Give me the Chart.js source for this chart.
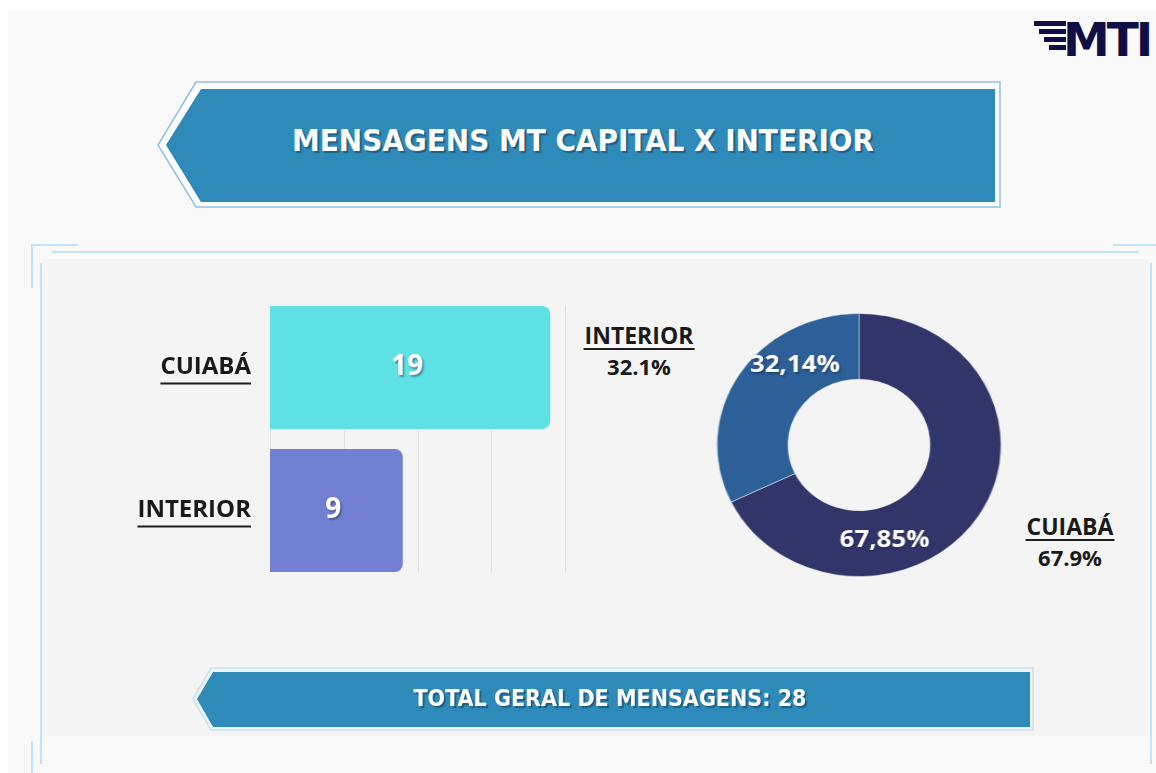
<!DOCTYPE html>
<html>
<head>
<meta charset="utf-8">
<script src="https://cdn.jsdelivr.net/npm/chart.js@4.4.1/dist/chart.umd.min.js"></script>
<style>
  html, body { margin:0; padding:0; }
  body { width:1156px; height:773px; background:#ffffff; position:relative; overflow:hidden; font-family:"Open Sans", sans-serif; }
  .abs { position:absolute; }
  #page { left:8px; top:10px; width:1148px; height:763px; background:#f9f9f9; }
  #panel { left:42px; top:259px; width:1106px; height:477px; background:#f4f4f4; }
  .bl { position:absolute; background:#bfe3f7; }
  .title { color:#fff; font-family:"DejaVu Sans Condensed","DejaVu Sans",sans-serif; font-weight:bold; text-shadow:2px 2px 1px rgba(20,60,90,0.55); white-space:nowrap; transform:translate(-50%,-50%); }
  .olab { text-align:center; transform:translateX(-50%); color:#1a1a1a; font-weight:bold; font-size:22px; line-height:31px; white-space:nowrap; }
  .olab .u { display:inline-block; border-bottom:2px solid #1e1e1e; font-size:23px; line-height:26px; padding:0 1px; }
</style>
</head>
<body>
<div id="page" class="abs"></div>

<!-- logo -->
<svg class="abs" style="left:1030px;top:15px" width="126" height="48">
  <g fill="#0f0f45">
    <rect x="4" y="6" width="32" height="5"/>
    <rect x="9" y="14" width="27" height="5"/>
    <rect x="14" y="22" width="22" height="5"/>
    <rect x="19" y="30" width="17" height="5"/>
  </g>
  <text x="33" y="41" fill="#0f0f45" font-family="DejaVu Sans" font-weight="bold" font-size="47" letter-spacing="-3">MTI</text>
</svg>

<!-- title banner -->
<svg class="abs" style="left:0;top:0" width="1156" height="773">
  <polygon points="196,82 1000,82 1000,207 196,207 158,145" fill="#ffffff" stroke="#8cc2de" stroke-width="1.5"/>
  <polygon points="201,89 995,89 995,202 201,202 166,145" fill="#2e8bb9"/>
</svg>
<div class="abs title" style="left:583px;top:140px;font-size:31px;">MENSAGENS MT CAPITAL X INTERIOR</div>

<!-- decorative lines -->
<div class="bl" style="left:31px;top:244px;width:47px;height:2px"></div>
<div class="bl" style="left:31px;top:244px;width:2px;height:44px"></div>
<div class="bl" style="left:52px;top:251px;width:1087px;height:2px"></div>
<div class="bl" style="left:1113px;top:244px;width:43px;height:2px"></div>

<div id="panel" class="abs"></div>
<div class="bl" style="left:40px;top:263px;width:2px;height:501px"></div>
<div class="bl" style="left:1150px;top:263px;width:2px;height:501px"></div>
<div class="bl" style="left:31px;top:741px;width:2px;height:32px"></div>

<!-- bar chart -->
<canvas id="bar" class="abs" style="left:100px;top:286px" width="480" height="306"></canvas>

<!-- doughnut -->
<canvas id="donut" class="abs" style="left:727px;top:313px;transform:scaleX(1.08);transform-origin:50% 50%" width="264" height="264"></canvas>

<div id="labInt" class="abs olab" style="left:639px;top:320px"><span class="u">INTERIOR</span><br><span id="pInt"></span></div>
<div id="labCui" class="abs olab" style="left:1070px;top:511px"><span class="u">CUIABÁ</span><br><span id="pCui"></span></div>

<!-- bottom banner -->
<svg class="abs" style="left:0;top:0" width="1156" height="773">
  <polygon points="211,668 1033,668 1033,730 211,730 193,699" fill="#eef5fa" stroke="#c9e0ee" stroke-width="1.5"/>
  <polygon points="213,672 1030,672 1030,727 213,727 197,699" fill="#2e8bb9"/>
</svg>
<div id="total" class="abs title" style="left:610px;top:698px;font-size:23px;"></div>

<script>
// ---- data ----
const categories = ["CUIABÁ", "INTERIOR"];
const messageCounts = [19, 9];
const barColors = ["#5ee2e6", "#7180d2"];
const donutColors = ["#313569", "#2d5f98"];
const xTicks = [0, 5, 10, 15, 20];

const total = messageCounts.reduce((a, b) => a + b, 0);
const pctTrunc = v => (Math.floor(v / total * 10000) / 100).toFixed(2).replace('.', ',') + '%';
const pctRound = v => (v / total * 100).toFixed(1) + '%';

document.getElementById('total').textContent = 'TOTAL GERAL DE MENSAGENS: ' + total;
document.getElementById('pCui').textContent = pctRound(messageCounts[0]);
document.getElementById('pInt').textContent = pctRound(messageCounts[1]);

function shadowText(ctx, txt, x, y) {
  ctx.save();
  ctx.shadowColor = 'rgba(30,40,70,0.45)';
  ctx.shadowOffsetX = 1.5;
  ctx.shadowOffsetY = 1.5;
  ctx.shadowBlur = 2;
  ctx.fillStyle = '#ffffff';
  ctx.fillText(txt, x, y);
  ctx.restore();
}

const barPlugin = {
  id: 'barDeco',
  beforeDatasetsDraw(chart) {
    const ctx = chart.ctx, xs = chart.scales.x;
    const meta = chart.getDatasetMeta(0);
    const top = meta.data[0].y - meta.data[0].height / 2;
    const bottom = meta.data[meta.data.length - 1].y + meta.data[meta.data.length - 1].height / 2;
    ctx.save();
    ctx.strokeStyle = '#e0e0e0';
    ctx.lineWidth = 1;
    xTicks.forEach(t => {
      const x = Math.round(xs.getPixelForValue(t)) + 0.5;
      ctx.beginPath(); ctx.moveTo(x, top); ctx.lineTo(x, bottom); ctx.stroke();
    });
    ctx.restore();
  },
  afterDatasetsDraw(chart) {
    const ctx = chart.ctx, ys = chart.scales.y;
    const meta = chart.getDatasetMeta(0);
    ctx.save();
    ctx.textAlign = 'center';
    ctx.textBaseline = 'middle';
    ctx.font = 'bold 28px "Open Sans"';
    meta.data.forEach((el, i) => {
      shadowText(ctx, String(messageCounts[i]), (el.x + el.base) / 2 - 3, el.y);
    });
    // category labels
    ctx.font = 'bold 24px "Open Sans"';
    ctx.textAlign = 'right';
    const right = chart.chartArea.left - 19;
    categories.forEach((c, i) => {
      const y = ys.getPixelForValue(i);
      ctx.fillStyle = '#1a1a1a';
      ctx.fillText(c, right, y);
      const w = ctx.measureText(c).width;
      ctx.fillStyle = '#1e1e1e';
      ctx.fillRect(right - w, y + 15, w, 2);
    });
    ctx.restore();
  }
};

new Chart(document.getElementById('bar'), {
  type: 'bar',
  data: {
    labels: categories,
    datasets: [{
      data: messageCounts,
      backgroundColor: barColors,
      borderRadius: 8,
      borderSkipped: 'start',
      categoryPercentage: 1,
      barPercentage: 0.86
    }]
  },
  options: {
    indexAxis: 'y',
    responsive: false,
    animation: false,
    devicePixelRatio: 1,
    layout: { padding: { left: 170, right: 15, top: 10, bottom: 10 } },
    scales: {
      x: { display: false, min: 0, max: 20 },
      y: { display: false }
    },
    plugins: { legend: { display: false }, tooltip: { enabled: false } }
  },
  plugins: [barPlugin]
});

const donutPlugin = {
  id: 'donutLabels',
  afterDatasetsDraw(chart) {
    const ctx = chart.ctx;
    const meta = chart.getDatasetMeta(0);
    ctx.save();
    ctx.textAlign = 'center';
    ctx.textBaseline = 'middle';
    ctx.font = 'bold 24px "Open Sans"';
    meta.data.forEach((arc, i) => {
      const p = arc.getProps(['x', 'y', 'startAngle', 'endAngle', 'innerRadius', 'outerRadius']);
      const a = p.startAngle + 0.68 * (p.endAngle - p.startAngle);
      const r = (p.innerRadius + p.outerRadius) / 2;
      shadowText(ctx, pctTrunc(messageCounts[i]), p.x + Math.cos(a) * r, p.y + Math.sin(a) * r - 1);
    });
    ctx.restore();
  }
};

new Chart(document.getElementById('donut'), {
  type: 'doughnut',
  data: {
    labels: categories,
    datasets: [{
      data: messageCounts,
      backgroundColor: donutColors,
      borderColor: 'rgba(255,255,255,0.45)',
      borderWidth: 1
    }]
  },
  options: {
    responsive: false,
    animation: false,
    devicePixelRatio: 1,
    cutout: '50%',
    layout: { padding: 0 },
    plugins: { legend: { display: false }, tooltip: { enabled: false } }
  },
  plugins: [donutPlugin]
});
</script>
</body>
</html>
